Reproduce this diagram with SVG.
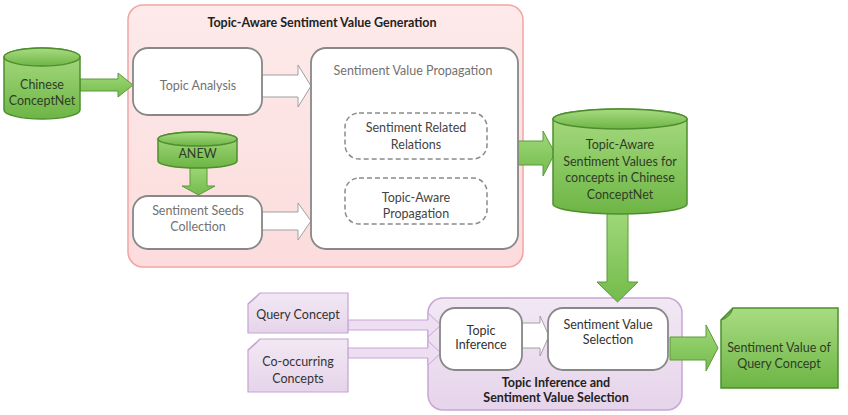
<svg xmlns="http://www.w3.org/2000/svg" width="848" height="415" viewBox="0 0 848 415">
<defs>
<linearGradient id="gGreen" x1="0" y1="0" x2="0" y2="1">
<stop offset="0" stop-color="#a9dc82"/>
<stop offset="1" stop-color="#6db545"/>
</linearGradient>
<linearGradient id="gGreenH" x1="0" y1="0" x2="0" y2="1">
<stop offset="0" stop-color="#9fd879"/>
<stop offset="1" stop-color="#74bb4c"/>
</linearGradient>
<linearGradient id="gPink" x1="0" y1="0" x2="0" y2="1">
<stop offset="0" stop-color="#fdeaea"/>
<stop offset="1" stop-color="#fcdcdc"/>
</linearGradient>
<linearGradient id="gPurple" x1="0" y1="0" x2="0" y2="1">
<stop offset="0" stop-color="#f2e8f4"/>
<stop offset="1" stop-color="#e6d4ea"/>
</linearGradient>
</defs>
<style>
text{font-family:Lato,"Liberation Sans",sans-serif;font-size:12.5px;text-anchor:middle}
.title{font-weight:bold;fill:#222}
.gray{fill:#727272}
.dark{fill:#444}
.gtxt{fill:#2f3d27}
.ptxt{fill:#333}
.green{fill:url(#gGreen);stroke:#4e8e2e;stroke-width:1.5}
.garrow{fill:url(#gGreenH);stroke:#5a9a38;stroke-width:1}
.box{fill:#fff;stroke:#888;stroke-width:1.8}
.dash{fill:#fff;stroke:#8a8a8a;stroke-width:1.5;stroke-dasharray:5,3}
.harrow{fill:#fff;stroke:#a0a0a0;stroke-width:1}
.pdoc{fill:url(#gPurple);stroke:#c6a3d1;stroke-width:1.2}
.parrow{fill:#eddff1;stroke:#c9a5d6;stroke-width:1}
</style>

<g id="group-generation">
<rect x="128" y="5" width="395" height="262" rx="15" fill="url(#gPink)" stroke="#f2a5a5" stroke-width="1.5"/>
<text class="title" x="322" y="27">Topic-Aware Sentiment Value Generation</text>
</g>

<g id="group-inference">
<rect x="428" y="298" width="254" height="112" rx="15" fill="url(#gPurple)" stroke="#c9a5d6" stroke-width="1.5"/>
<text class="title" x="556" y="387">Topic Inference and</text>
<text class="title" x="556" y="402">Sentiment Value Selection</text>
</g>

<g id="connectors">
<polygon class="garrow" points="80,79 118,79 118,73 133,85 118,97 118,91 80,91"/>
<polygon class="garrow" points="190,166 207,166 207,186 215,186 198.5,195 182,186 190,186"/>
<polygon class="harrow" points="262,75 298,75 298,65 311,86 298,107 298,97 262,97"/>
<polygon class="harrow" points="262,212 298,212 298,203 311,221 298,240 298,230 262,230"/>
<polygon class="garrow" points="518,141 543,141 543,131 555,153 543,176 543,165 518,165"/>
<polygon class="garrow" points="607,212 628,212 628,282 638,282 617.5,302 597,282 607,282"/>
<polygon class="parrow" points="348,320 428,320 428,313 441,325 428,337 428,330 348,330"/>
<polygon class="parrow" points="348,348 428,348 428,341 441,353 428,365 428,358 348,358"/>
<polygon class="harrow" points="522,323 540,323 540,316 549,336 540,356 540,348 522,348"/>
<polygon class="garrow" points="670,337 706,337 706,325 718,348 706,371 706,360 670,360"/>
</g>

<g id="chinese-conceptnet">
<path class="green" d="M4,57 A38,9 0 0 1 80,57 L80,110 A38,9 0 0 1 4,110 Z"/>
<ellipse class="green" cx="42" cy="57" rx="38" ry="9"/>
<text class="gtxt" x="42" y="89">Chinese</text>
<text class="gtxt" x="42" y="105">ConceptNet</text>
</g>

<g id="topic-analysis">
<rect class="box" x="133" y="48" width="129" height="67" rx="15"/>
<text class="gray" x="198" y="90">Topic Analysis</text>
</g>

<g id="anew">
<path class="green" d="M158,139 A39.5,7 0 0 1 237,139 L237,161 A39.5,7 0 0 1 158,161 Z"/>
<ellipse class="green" cx="197.5" cy="139" rx="39.5" ry="7"/>
<text class="gtxt" x="197.5" y="158">ANEW</text>
</g>

<g id="sentiment-seeds">
<rect class="box" x="133" y="196" width="129" height="53" rx="15"/>
<text class="gray" x="198" y="215">Sentiment Seeds</text>
<text class="gray" x="198" y="231">Collection</text>
</g>

<g id="propagation">
<rect class="box" x="311" y="48" width="207" height="201" rx="15"/>
<text class="gray" x="413" y="75">Sentiment Value Propagation</text>
</g>

<g id="related-relations">
<rect class="dash" x="345" y="113" width="142" height="46" rx="14"/>
<text class="dark" x="416" y="132">Sentiment Related</text>
<text class="dark" x="416" y="149">Relations</text>
</g>

<g id="topic-aware-propagation">
<rect class="dash" x="345" y="178" width="142" height="46" rx="14"/>
<text class="dark" x="416" y="202">Topic-Aware</text>
<text class="dark" x="416" y="218">Propagation</text>
</g>

<g id="topic-aware-values">
<path class="green" d="M553,119 A67,10 0 0 1 687,119 L687,204 A67,10 0 0 1 553,204 Z"/>
<ellipse class="green" cx="620" cy="119" rx="67" ry="10"/>
<text class="gtxt" x="620" y="149">Topic-Aware</text>
<text class="gtxt" x="620" y="166">Sentiment Values for</text>
<text class="gtxt" x="620" y="182">concepts in Chinese</text>
<text class="gtxt" x="620" y="199">ConceptNet</text>
</g>

<g id="query-concept">
<path class="pdoc" d="M260,293 L348,293 L348,333 L248,333 L248,304 Z"/>
<path d="M248,304 C253,300 256,298 260,293" fill="none" stroke="#c6a3d1" stroke-width="1.2"/>
<text class="ptxt" x="298" y="319">Query Concept</text>
</g>

<g id="co-occurring">
<path class="pdoc" d="M260,339 L348,339 L348,392 L248,392 L248,350 Z"/>
<path d="M248,350 C253,346 256,344 260,339" fill="none" stroke="#c6a3d1" stroke-width="1.2"/>
<text class="ptxt" x="298" y="366">Co-occurring</text>
<text class="ptxt" x="298" y="383">Concepts</text>
</g>

<g id="topic-inference">
<rect class="box" x="440" y="308" width="82" height="62" rx="15"/>
<text class="ptxt" x="481" y="335">Topic</text>
<text class="ptxt" x="481" y="349">Inference</text>
</g>

<g id="value-selection">
<rect class="box" x="548" y="308" width="120" height="62" rx="15"/>
<text class="ptxt" x="608" y="329">Sentiment Value</text>
<text class="ptxt" x="608" y="344">Selection</text>
</g>

<g id="output">
<path class="green" d="M733,308 L838,308 L838,388 L721,388 L721,320 Z"/>
<path d="M721,320 C727,318 731,314 733,308 C730,312 726,316 721,320 Z" fill="#c8ebb0" stroke="#4e8e2e" stroke-width="1.2"/>
<text class="gtxt" x="779" y="352">Sentiment Value of</text>
<text class="gtxt" x="779" y="368">Query Concept</text>
</g>
</svg>
